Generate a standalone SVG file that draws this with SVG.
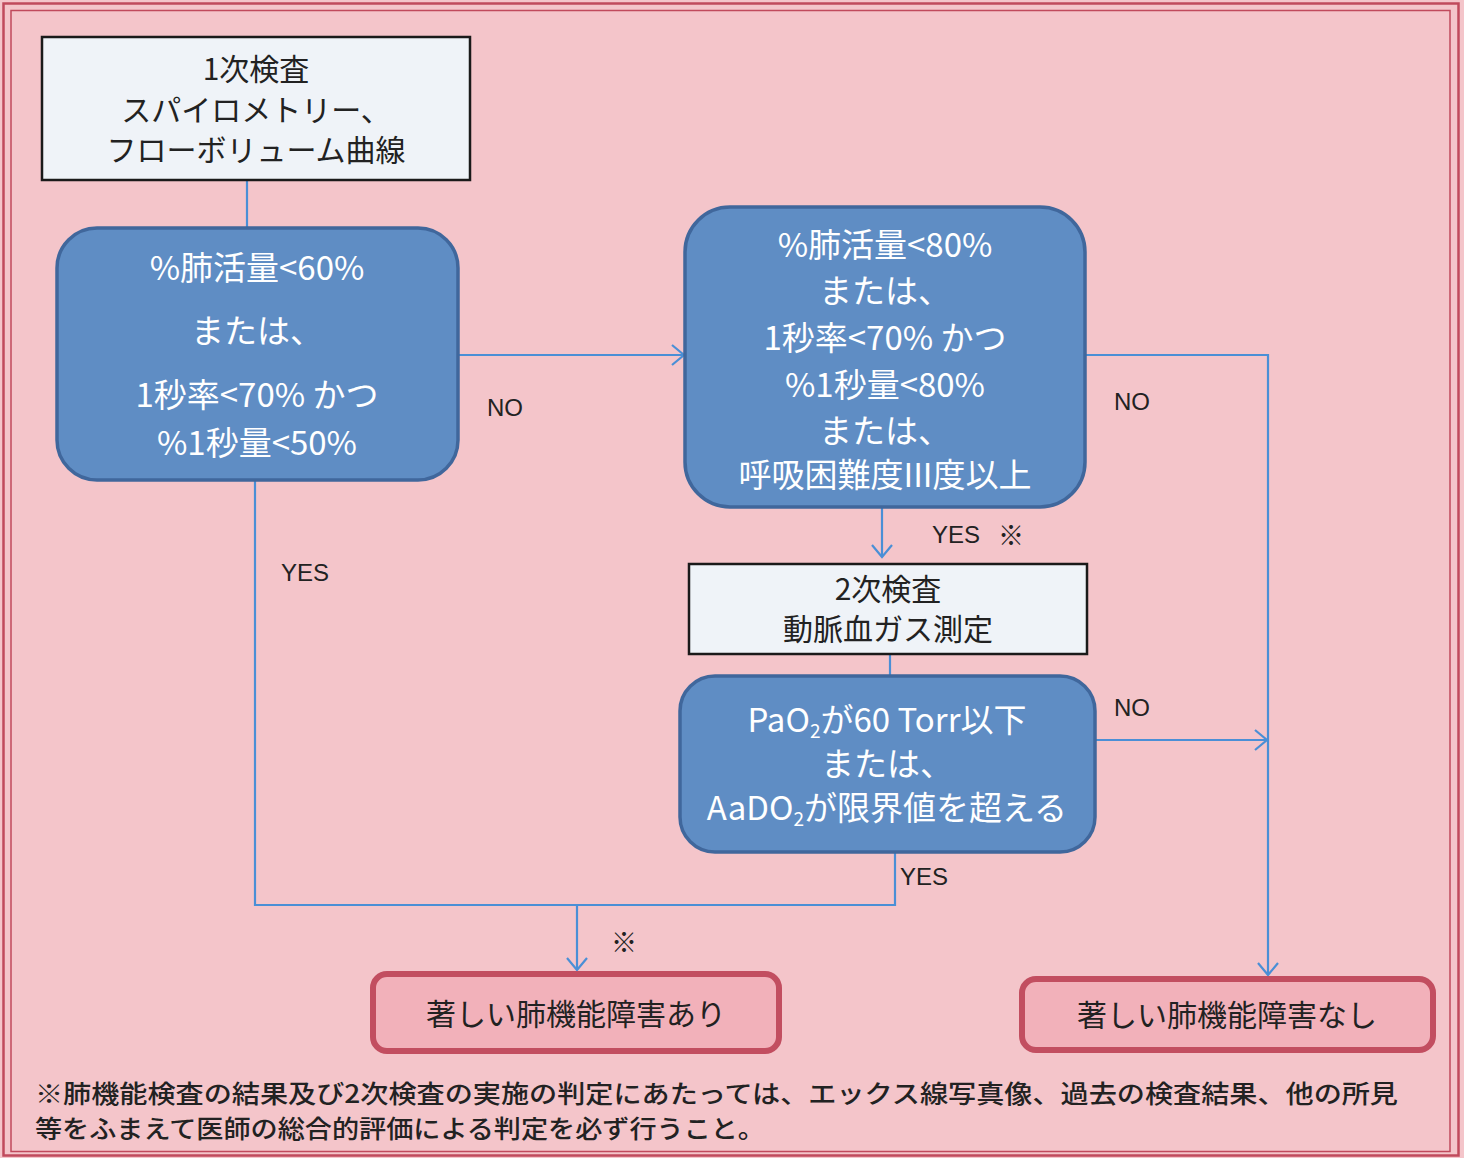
<svg xmlns="http://www.w3.org/2000/svg" width="1464" height="1158" viewBox="0 0 1464 1158">
<defs>
<style>
.bg{fill:#f4c5ca}
.frame{fill:none;stroke:#c04a5c}
.wbox{fill:#eff3f8;stroke:#1a1a1a;stroke-width:2.5}
.bbox{fill:#5f8dc4;stroke:#40679c;stroke-width:3.5}
.rbox{fill:#f2b1ba;stroke:#c24e60;stroke-width:6}
.jp{font-family:"Noto Sans CJK JP",sans-serif}
.wt{fill:#ffffff;font-size:33px;text-anchor:middle}
.dk{fill:#222222;font-size:30px;text-anchor:middle}
.lbl{font-family:"Liberation Sans",Arial,sans-serif;font-size:24px;fill:#222222}
.conn{fill:none;stroke:#4a8fd6;stroke-width:2.2}
</style>
<marker id="arr" markerWidth="16" markerHeight="24" refX="13" refY="12" orient="auto" markerUnits="userSpaceOnUse">
<path d="M1,2 L13,12 L1,22" fill="none" stroke="#4a8fd6" stroke-width="2.2"/>
</marker>
</defs>
<rect class="bg" x="0" y="0" width="1464" height="1158"/>
<rect class="frame" x="3.5" y="3.5" width="1455" height="1152" stroke-width="2.5"/>
<rect class="frame" x="11" y="10.5" width="1439" height="1141" stroke-width="1.5"/>

<g id="connectors">
<line class="conn" x1="247" y1="181" x2="247" y2="228"/>
<line class="conn" x1="458" y1="355" x2="684" y2="355" marker-end="url(#arr)"/>
<polyline class="conn" points="1085,355 1268,355 1268,975" marker-end="url(#arr)"/>
<line class="conn" x1="882" y1="508" x2="882" y2="557" marker-end="url(#arr)"/>
<line class="conn" x1="890" y1="654" x2="890" y2="676"/>
<line class="conn" x1="1096" y1="740" x2="1267" y2="740" marker-end="url(#arr)"/>
<polyline class="conn" points="255,480 255,905 895,905 895,852"/>
<line class="conn" x1="577" y1="905" x2="577" y2="970" marker-end="url(#arr)"/>
<text class="lbl" x="487" y="416">NO</text>
<text class="lbl" x="1114" y="410">NO</text>
<text class="lbl" x="1114" y="716">NO</text>
<text class="lbl" x="281" y="581">YES</text>
<text class="lbl" x="932" y="543">YES</text>
<text class="jp" x="998" y="545" font-size="26" fill="#222">※</text>
<text class="lbl" x="900" y="885">YES</text>
<text class="jp" x="611" y="952" font-size="26" fill="#222">※</text>
</g>

<g id="n1">
<rect class="wbox" x="42" y="37" width="428" height="143"/>
<text class="jp dk" x="256" y="80">1次検査</text>
<text class="jp dk" x="256" y="121">スパイロメトリー、</text>
<text class="jp dk" x="256" y="161">フローボリューム曲線</text>
</g>

<g id="n2">
<rect class="bbox" x="57" y="228" width="401" height="252" rx="40"/>
<text class="jp wt" x="257" y="280">%肺活量&lt;60%</text>
<text class="jp wt" x="257" y="343">または、</text>
<text class="jp wt" x="257" y="407">1秒率&lt;70% かつ</text>
<text class="jp wt" x="257" y="455">%1秒量&lt;50%</text>
</g>

<g id="n3">
<rect class="bbox" x="685" y="207" width="400" height="300" rx="45"/>
<text class="jp wt" x="885" y="257">%肺活量&lt;80%</text>
<text class="jp wt" x="885" y="303">または、</text>
<text class="jp wt" x="885" y="350">1秒率&lt;70% かつ</text>
<text class="jp wt" x="885" y="397">%1秒量&lt;80%</text>
<text class="jp wt" x="885" y="443">または、</text>
<text class="jp wt" x="885" y="487" font-size="28">呼吸困難度III度以上</text>
</g>

<g id="n4">
<rect class="wbox" x="689" y="564" width="398" height="90"/>
<text class="jp dk" x="888" y="600">2次検査</text>
<text class="jp dk" x="888" y="640">動脈血ガス測定</text>
</g>

<g id="n5">
<rect class="bbox" x="680" y="676" width="415" height="176" rx="35"/>
<text class="jp wt" x="887" y="732" font-size="32">PaO<tspan font-size="19" dy="6">2</tspan><tspan dy="-6">が60 Torr以下</tspan></text>
<text class="jp wt" x="887" y="776" font-size="32">または、</text>
<text class="jp wt" x="887" y="820" font-size="32">AaDO<tspan font-size="19" dy="6">2</tspan><tspan dy="-6">が限界値を超える</tspan></text>
</g>

<g id="n6">
<rect class="rbox" x="373" y="974" width="406" height="77" rx="14"/>
<text class="jp dk" x="576" y="1025">著しい肺機能障害あり</text>
</g>

<g id="n7">
<rect class="rbox" x="1022" y="979" width="411" height="71" rx="14"/>
<text class="jp dk" x="1227" y="1026">著しい肺機能障害なし</text>
</g>

<g id="note">
<text class="jp" x="35" y="1103" font-size="25" font-weight="500" fill="#222" textLength="1363" lengthAdjust="spacingAndGlyphs">※肺機能検査の結果及び2次検査の実施の判定にあたっては、エックス線写真像、過去の検査結果、他の所見</text>
<text class="jp" x="35" y="1138" font-size="25" font-weight="500" fill="#222" textLength="730" lengthAdjust="spacingAndGlyphs">等をふまえて医師の総合的評価による判定を必ず行うこと。</text>
</g>
</svg>
